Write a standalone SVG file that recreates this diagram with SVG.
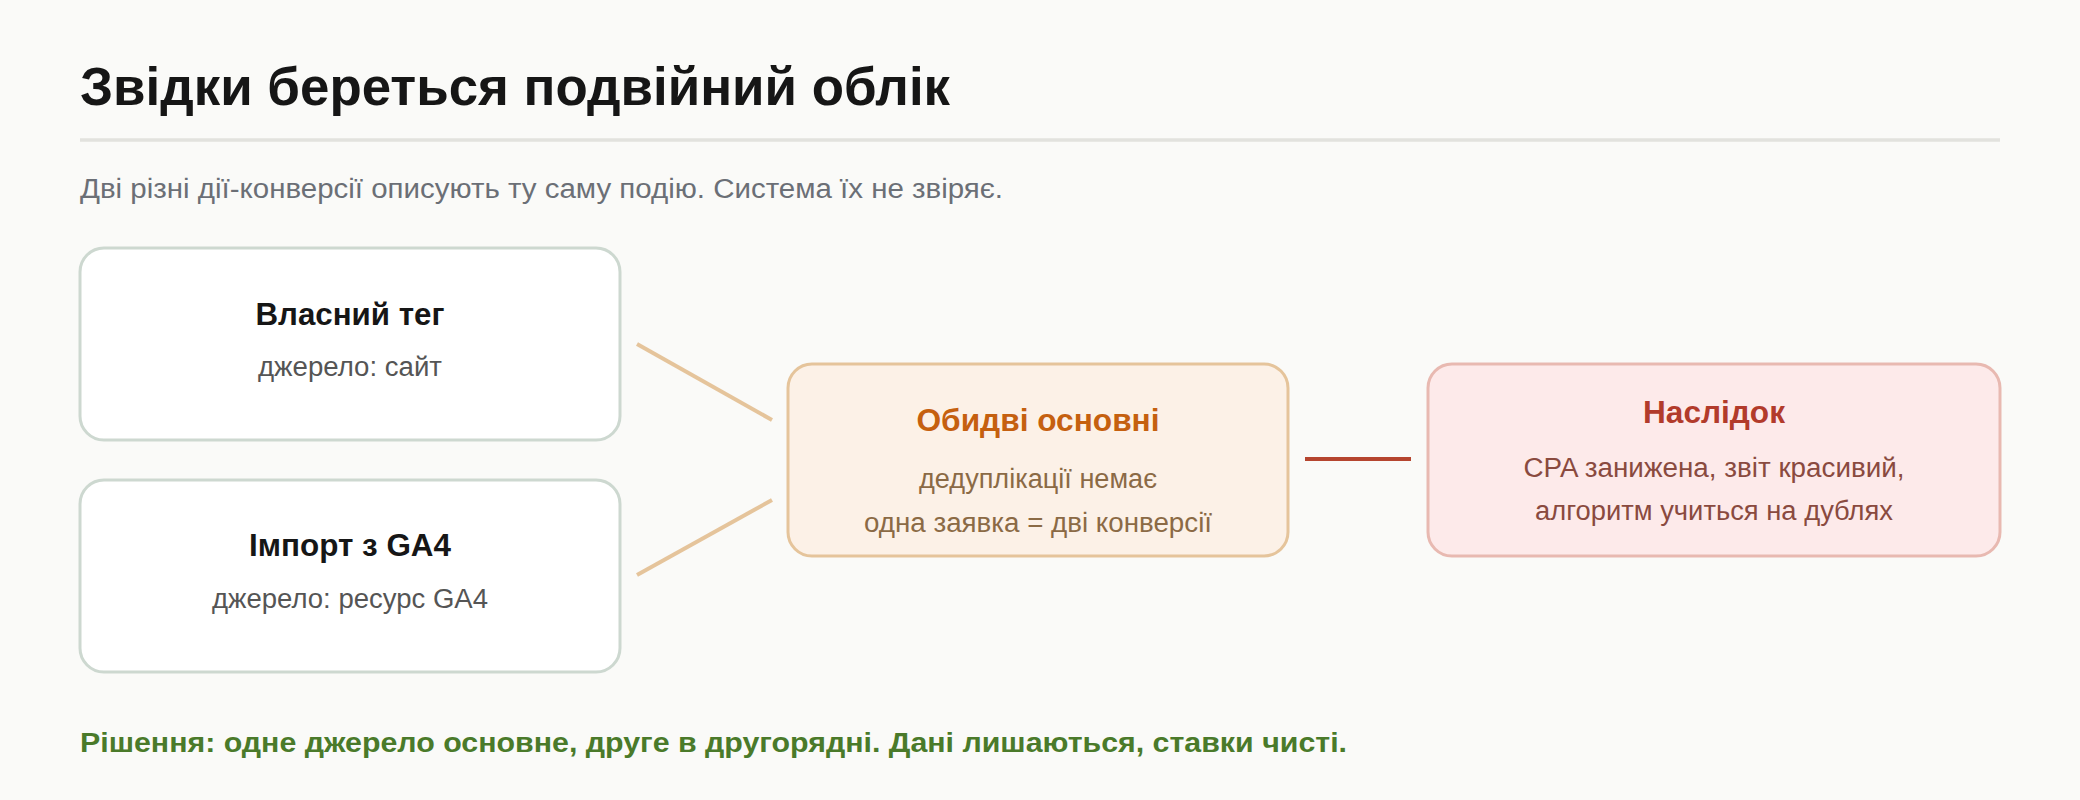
<svg xmlns="http://www.w3.org/2000/svg" width="2080" height="800" viewBox="0 0 2080 800">
<style>
text{font-family:"Liberation Sans",Arial,sans-serif}
.nbox{fill:#ffffff;stroke:#cdd8d0;stroke-width:3}
.c{text-anchor:middle}
.nt{font-size:31px;font-weight:bold;fill:#161616}
.ns{font-size:27px;fill:#555555}
.mid{fill:#fcf1e7;stroke:#e5c49b;stroke-width:3}
.red{fill:#fdeaea;stroke:#e8b9b1;stroke-width:3}
</style>
<rect width="2080" height="800" fill="#fafaf8"/>
<text x="80" y="105" font-size="53" font-weight="bold" fill="#161616" textLength="870" lengthAdjust="spacingAndGlyphs">Звідки береться подвійний облік</text>
<line x1="80" y1="140" x2="2000" y2="140" stroke="#e2e2de" stroke-width="3.5"/>
<text x="80" y="198" font-size="27" fill="#6b6f76" textLength="923" lengthAdjust="spacingAndGlyphs">Дві різні дії-конверсії описують ту саму подію. Система їх не звіряє.</text>
<g id="connectors" fill="none" stroke-width="4">
<line x1="637" y1="344" x2="772" y2="420" stroke="#e5c49b"/>
<line x1="637" y1="575" x2="772" y2="500" stroke="#e5c49b"/>
<line x1="1305" y1="459" x2="1411" y2="459" stroke="#b5452f"/>
</g>
<g id="tag">
<rect class="nbox" x="80" y="248" width="540" height="192" rx="24"/>
<text class="nt c" x="350" y="325" textLength="189" lengthAdjust="spacingAndGlyphs">Власний тег</text>
<text class="ns c" x="350" y="376" textLength="184" lengthAdjust="spacingAndGlyphs">джерело: сайт</text>
</g>
<g id="ga4">
<rect class="nbox" x="80" y="480" width="540" height="192" rx="24"/>
<text class="nt c" x="350" y="556" textLength="202" lengthAdjust="spacingAndGlyphs">Імпорт з GA4</text>
<text class="ns c" x="350" y="608" textLength="276" lengthAdjust="spacingAndGlyphs">джерело: ресурс GA4</text>
</g>
<g id="both">
<rect class="mid" x="788" y="364" width="500" height="192" rx="24"/>
<text class="c" x="1038" y="431" font-size="31" font-weight="bold" fill="#c5600f" textLength="243" lengthAdjust="spacingAndGlyphs">Обидві основні</text>
<text class="c" x="1038" y="488" font-size="27" fill="#8b6a45" textLength="238" lengthAdjust="spacingAndGlyphs">дедуплікації немає</text>
<text class="c" x="1038" y="532" font-size="27" fill="#8b6a45" textLength="348" lengthAdjust="spacingAndGlyphs">одна заявка = дві конверсії</text>
</g>
<g id="result">
<rect class="red" x="1428" y="364" width="572" height="192" rx="24"/>
<text class="c" x="1714" y="423" font-size="31" font-weight="bold" fill="#b23b2b" textLength="142" lengthAdjust="spacingAndGlyphs">Наслідок</text>
<text class="c" x="1714" y="477" font-size="27" fill="#8a4a3f" textLength="381" lengthAdjust="spacingAndGlyphs">CPA занижена, звіт красивий,</text>
<text class="c" x="1714" y="520" font-size="27" fill="#8a4a3f" textLength="358" lengthAdjust="spacingAndGlyphs">алгоритм учиться на дублях</text>
</g>
<text x="80" y="752" font-size="27" font-weight="bold" fill="#4a7a2a" textLength="1267" lengthAdjust="spacingAndGlyphs">Рішення: одне джерело основне, друге в другорядні. Дані лишаються, ставки чисті.</text>
</svg>
